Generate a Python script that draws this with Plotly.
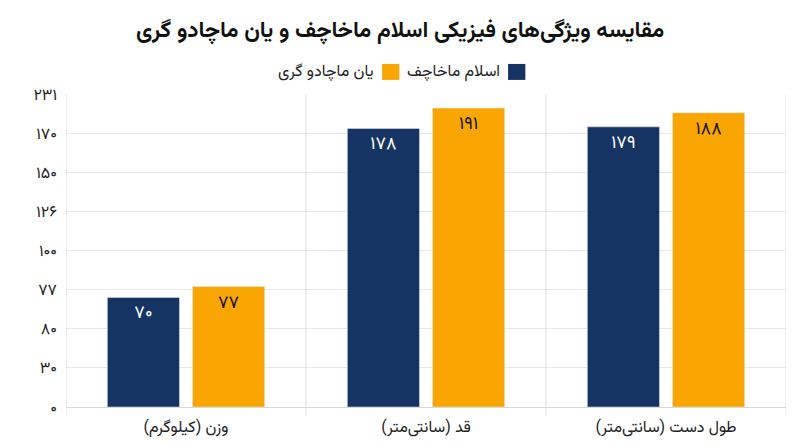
import plotly.graph_objects as go

# %% data
categories = ["وزن (کیلوگرم)", "قد (سانتی‌متر)", "طول دست (سانتی‌متر)"]
series_names = ["اسلام ماخاچف", "یان ماچادو گری"]
islam_values = [70, 178, 179]
jan_values = [77, 191, 188]
tick_values = [0, 25, 50, 75, 100, 125, 150, 175, 200]
tick_labels = ["۰", "۳۰", "۸۰", "۷۷", "۱۰۰", "۱۲۶", "۱۵۰", "۱۷۰", "۲۳۱"]

NAVY = "#163463"
ORANGE = "#F9A603"
FONT = "Vazirmatn, DejaVu Sans, sans-serif"


def fa_digits(n):
    return str(n).translate(str.maketrans("0123456789", "۰۱۲۳۴۵۶۷۸۹"))


# %% bars
fig = go.Figure()
fig.add_bar(x=categories, y=islam_values, name=series_names[0],
            marker_color=NAVY, text=[fa_digits(v) for v in islam_values],
            textposition="inside", insidetextanchor="end",
            textfont=dict(color="white", size=18, family=FONT))
fig.add_bar(x=categories, y=jan_values, name=series_names[1],
            marker_color=ORANGE, text=[fa_digits(v) for v in jan_values],
            textposition="inside", insidetextanchor="end",
            textfont=dict(color="#111111", size=18, family=FONT))

# category separators + frame sides
for xv in [-0.5, 0.5, 1.5, 2.5]:
    fig.add_shape(type="line", xref="x", yref="paper", x0=xv, x1=xv, y0=-0.026, y1=1,
                  line=dict(color="#dddddd", width=1))

# legend drawn RTL: square to the right of its text
legend_items = [(series_names[0], NAVY, 0.614), (series_names[1], ORANGE, 0.439)]
for name, color, sx in legend_items:
    fig.add_shape(type="rect", xref="paper", yref="paper",
                  x0=sx, x1=sx + 0.024, y0=1.045, y1=1.096,
                  fillcolor=color, line_width=0)
    fig.add_annotation(text=name, xref="paper", yref="paper", x=sx - 0.008, y=1.07,
                       xanchor="right", yanchor="middle", showarrow=False,
                       font=dict(size=16, color="#222222", family=FONT))

fig.update_layout(
    width=800, height=447,
    margin=dict(l=66, r=14, t=94, b=40),
    paper_bgcolor="white", plot_bgcolor="white",
    title=dict(text="<b>مقایسه ویژگی‌های فیزیکی اسلام ماخاچف و یان ماچادو گری</b>",
               x=0.5, xanchor="center", y=0.935, yanchor="middle",
               font=dict(size=22.5, color="#111111", family=FONT)),
    showlegend=False,
    barmode="group", bargap=0.29, bargroupgap=0.153,
    font=dict(family=FONT),
)
fig.update_xaxes(range=[-0.5, 2.5], showgrid=False, showline=False,
                 ticklabelstandoff=8, automargin=False,
                 tickfont=dict(size=16, color="#222222", family=FONT), ticks="")
fig.update_yaxes(range=[0, 200], tickvals=tick_values, ticktext=tick_labels,
                 showgrid=True, gridcolor="#e8e8e8", gridwidth=1,
                 zeroline=True, zerolinecolor="#d8d8d8", zerolinewidth=1,
                 showline=False, ticks="", ticklabelstandoff=8, automargin=False,
                 tickfont=dict(size=16, color="#222222", family=FONT))

config = {"displaylogo": False, "displayModeBar": False}
# drop the default page margin so the figure sits at the window corner
fig.write_html("out.html", config=config,
               post_script="document.body.style.margin='0';")
